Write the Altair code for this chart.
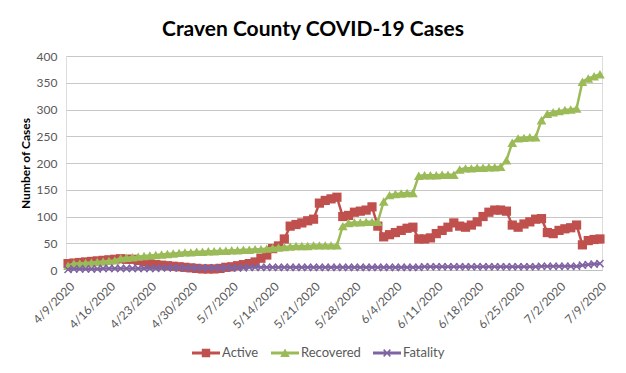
import altair as alt
import pandas as pd

# ---- data (daily, 4/9/2020 .. 7/9/2020) ----
active = [12, 13, 14, 15, 16, 17, 18, 19, 20, 21, 20, 20, 18, 15, 12, 10, 9, 8, 7, 6,
          5, 4, 3, 2, 2, 2, 3, 5, 6, 8, 10, 12, 15, 22, 28, 40, 45, 58, 82, 85,
          88, 92, 95, 125, 130, 133, 136, 100, 102, 108, 110, 112, 118, 82, 62, 66, 70, 74, 78, 80,
          58, 58, 60, 68, 74, 80, 88, 82, 80, 84, 90, 100, 108, 112, 112, 110, 84, 80, 86, 90,
          95, 96, 70, 68, 74, 77, 79, 84, 47, 55, 57, 58]
recovered = [8, 12, 12, 13, 14, 15, 16, 17, 18, 22, 23, 24, 25, 26, 27, 28, 29, 30, 31, 32,
             33, 33, 34, 34, 35, 35, 36, 36, 37, 37, 38, 38, 39, 39, 40, 41, 42, 43, 44, 45,
             45, 45, 46, 46, 46, 46, 46, 82, 88, 89, 89, 90, 90, 90, 128, 140, 142, 143, 144, 144,
             176, 177, 177, 177, 178, 178, 178, 188, 190, 190, 191, 191, 192, 192, 193, 205, 238, 246, 247, 248,
             248, 280, 292, 295, 297, 299, 300, 302, 352, 358, 362, 366]
fatality = [1, 2, 2, 2, 2, 2, 3, 3, 3, 3, 3, 3, 3, 3, 3, 3, 4, 4, 4, 4,
            4, 4, 4, 4, 4, 4, 4, 4, 4, 4, 4, 5, 5, 5, 5, 5, 5, 5, 5, 5,
            5, 5, 5, 5, 5, 5, 5, 5, 5, 5, 5, 5, 5, 5, 5, 5, 5, 5, 5, 5,
            5, 6, 6, 6, 6, 6, 6, 6, 6, 6, 6, 6, 6, 6, 6, 6, 6, 6, 6, 6,
            6, 7, 7, 7, 7, 7, 7, 7, 9, 10, 11, 12]
tick_labels = ["4/9/2020", "4/16/2020", "4/23/2020", "4/30/2020", "5/7/2020", "5/14/2020",
               "5/21/2020", "5/28/2020", "6/4/2020", "6/11/2020", "6/18/2020", "6/25/2020",
               "7/2/2020", "7/9/2020"]
series_names = ["Active", "Recovered", "Fatality"]
colors = ["#C0504D", "#9BBB59", "#8064A2"]

rows = []
for name, vals in zip(series_names, [active, recovered, fatality]):
    for d, v in enumerate(vals):
        rows.append({"day": d, "series": name, "value": v})
df = pd.DataFrame(rows)

FONT = "Lato"
label_expr = "[" + ",".join("'%s'" % t for t in tick_labels) + "][round(datum.value/7)]"

x = alt.X("day:Q",
          scale=alt.Scale(domain=[-0.35, 91.35], nice=False, zero=False),
          axis=alt.Axis(values=list(range(0, 92, 7)), labelExpr=label_expr, labelAngle=-45,
                        labelAlign="right", labelBaseline="middle", labelPadding=14,
                        labelOffset=4,
                        grid=False, ticks=False, domainColor="#BFBFBF", domainWidth=1,
                        labelFontSize=12, labelColor="#595959", labelFont=FONT, title=None,
                        labelOverlap=False))
y = alt.Y("value:Q",
          scale=alt.Scale(domain=[0, 400], nice=False),
          axis=alt.Axis(values=list(range(0, 401, 50)), domain=False, ticks=False,
                        gridColor="#C8C8C8", gridWidth=1, labelPadding=9,
                        labelFontSize=12, labelColor="#595959", labelFont=FONT,
                        title="Number of Cases", titleFont=FONT, titleFontSize=12,
                        titleFontWeight="bold", titleColor="#000000",
                        titleX=-41, titleY=107, titleAngle=-90, titleAlign="center",
                        titleBaseline="middle"))

base = alt.Chart(df)
shapes = ["square", "triangle-up", "M-1,-1L1,1M1,-1L-1,1"]
sizes = [85, 95, 50]
layers = []
for name, color, shp, sz in zip(series_names, colors, shapes, sizes):
    sub = base.transform_filter(alt.datum.series == name)
    layers.append(sub.mark_line(color=color, strokeWidth=2.5).encode(x=x, y=y))
    if shp.startswith("M"):
        layers.append(sub.mark_point(shape=shp, size=sz, filled=False, color=color,
                                     strokeWidth=1.5, opacity=1).encode(x=x, y=y))
    else:
        layers.append(sub.mark_point(shape=shp, size=sz, filled=True, color=color,
                                     opacity=1).encode(x=x, y=y))

bar = "M-1,-0.1L1,-0.1L1,0.1L-1,0.1Z"
legend_paths = [
    bar + "M-0.3,-0.3L0.3,-0.3L0.3,0.3L-0.3,0.3Z",
    bar + "M0,-0.32L0.34,0.28L-0.34,0.28Z",
    bar + "M-0.28,-0.2L-0.2,-0.28L0,-0.08L0.2,-0.28L0.28,-0.2L0.08,0L0.28,0.2L0.2,0.28L0,0.08L-0.2,0.28L-0.28,0.2L-0.08,0Z",
]
leg = alt.Legend(orient="none", legendX=126, legendY=283, direction="horizontal", title=None,
                 symbolSize=784, symbolOpacity=1, symbolStrokeWidth=0,
                 labelFontSize=13, labelColor="#595959", labelFont=FONT,
                 columnPadding=12, labelOffset=2, padding=0)
legend_layer = base.mark_point(filled=True, opacity=0).encode(
    x=x, y=y,
    color=alt.Color("series:N", scale=alt.Scale(domain=series_names, range=colors), legend=leg),
    shape=alt.Shape("series:N", scale=alt.Scale(domain=series_names, range=legend_paths), legend=leg),
)
layers.append(legend_layer)

chart = alt.layer(*layers).properties(
    width=536, height=214,
    title=alt.TitleParams("Craven County COVID-19 Cases", font=FONT, fontSize=21,
                          fontWeight="bold", color="#000000", anchor="middle",
                          frame="group", dx=-21, offset=10),
    autosize=alt.AutoSizeParams(type="none"),
    padding={"left": 58, "top": 48, "right": 16, "bottom": 95},
).configure_view(stroke=None).configure(background="white")

chart.save("out.html", embed_options={"renderer": "svg", "actions": False})
